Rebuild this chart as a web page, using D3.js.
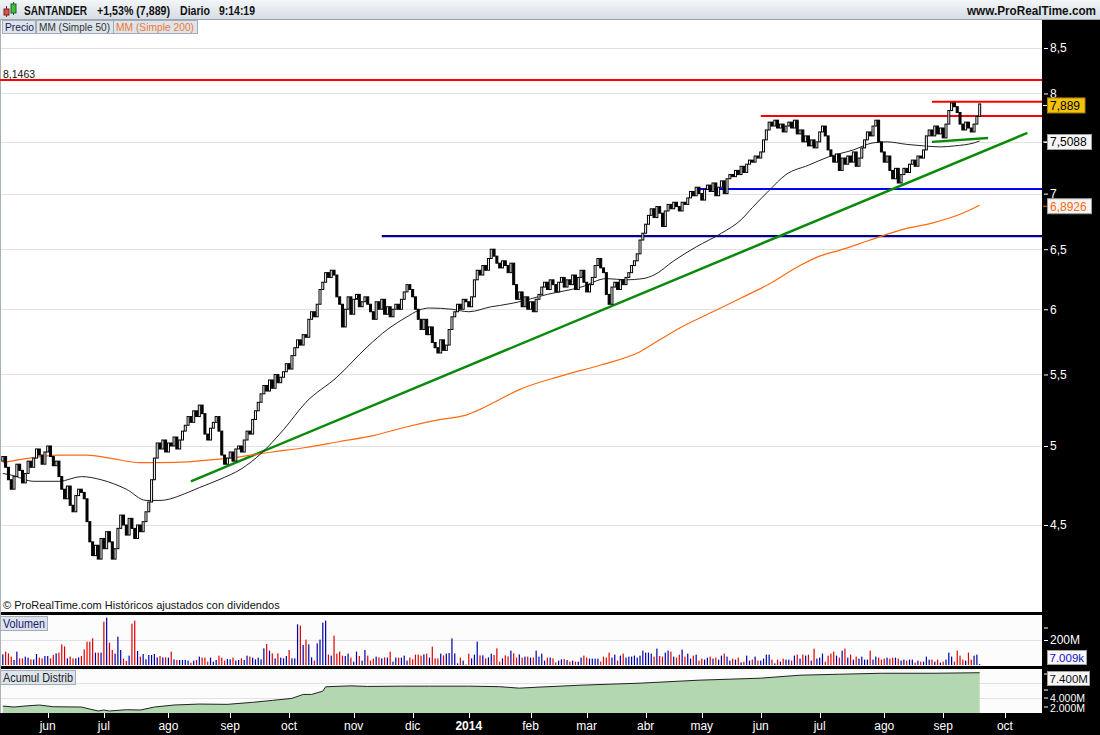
<!DOCTYPE html>
<html>
<head>
<meta charset="utf-8">
<script src="https://cdn.jsdelivr.net/npm/d3@7"></script>
<style>
body { margin: 0; background: #000; overflow: hidden; }
svg { display: block; font-family: "Liberation Sans", Arial, sans-serif; }
</style>
</head>
<body>
<svg id="chart" width="1100" height="735"></svg>
<script>
// daily closes, one per trading day from 10 May 2013 to 19 Sep 2014
var closes = [
    4.93, 4.86, 4.78, 4.72, 4.80, 4.88, 4.84, 4.76, 4.82, 4.90,
    4.86, 4.92, 4.98, 4.94, 4.88, 4.96, 5.00, 4.93, 4.87, 4.90,
    4.80, 4.72, 4.66, 4.74, 4.62, 4.58, 4.68, 4.72, 4.70, 4.66,
    4.52, 4.40, 4.32, 4.38, 4.30, 4.42, 4.36, 4.46, 4.40, 4.30,
    4.36, 4.48, 4.56, 4.50, 4.44, 4.54, 4.48, 4.42, 4.50, 4.46,
    4.52, 4.58, 4.64, 4.78, 4.92, 5.02, 4.98, 5.04, 4.96, 5.02,
    5.00, 5.06, 4.98, 5.04, 5.10, 5.14, 5.20, 5.16, 5.24, 5.20,
    5.28, 5.22, 5.08, 5.04, 5.12, 5.16, 5.20, 5.10, 4.94, 4.88,
    4.92, 4.96, 4.90, 4.98, 5.00, 4.96, 5.04, 5.10, 5.08, 5.18,
    5.24, 5.30, 5.36, 5.42, 5.38, 5.46, 5.40, 5.50, 5.44, 5.48,
    5.52, 5.58, 5.54, 5.64, 5.70, 5.76, 5.72, 5.80, 5.78, 5.92,
    5.98, 5.94, 6.04, 6.16, 6.22, 6.30, 6.26, 6.32, 6.28, 6.10,
    6.04, 5.86, 6.00, 6.10, 5.96, 6.08, 6.12, 6.02, 6.06, 6.10,
    6.04, 5.98, 5.92, 6.06, 6.00, 6.08, 5.96, 6.02, 5.94, 6.00,
    6.04, 6.00, 6.08, 6.14, 6.20, 6.16, 6.10, 6.00, 5.92, 5.84,
    5.92, 5.80, 5.86, 5.74, 5.70, 5.66, 5.76, 5.68, 5.72, 5.84,
    5.94, 5.98, 6.04, 6.00, 6.08, 6.06, 6.02, 6.10, 6.24, 6.32,
    6.28, 6.36, 6.32, 6.42, 6.50, 6.44, 6.38, 6.34, 6.40, 6.36,
    6.30, 6.38, 6.20, 6.08, 6.14, 6.02, 6.10, 6.00, 6.06, 5.98,
    6.08, 6.12, 6.18, 6.22, 6.16, 6.24, 6.20, 6.14, 6.22, 6.26,
    6.18, 6.24, 6.20, 6.28, 6.16, 6.26, 6.32, 6.22, 6.14, 6.20,
    6.26, 6.36, 6.42, 6.34, 6.30, 6.12, 6.04, 6.18, 6.22, 6.16,
    6.24, 6.20, 6.26, 6.30, 6.36, 6.40, 6.46, 6.58, 6.64, 6.72,
    6.80, 6.86, 6.78, 6.88, 6.82, 6.70, 6.84, 6.90, 6.86, 6.92,
    6.88, 6.84, 6.92, 6.90, 6.96, 7.02, 6.98, 7.06, 7.00, 6.94,
    7.04, 7.08, 7.02, 7.10, 6.98, 7.06, 7.12, 7.00, 7.14, 7.18,
    7.16, 7.22, 7.18, 7.26, 7.20, 7.28, 7.32, 7.30, 7.36, 7.34,
    7.40, 7.52, 7.62, 7.70, 7.66, 7.72, 7.64, 7.68, 7.60, 7.66,
    7.70, 7.64, 7.72, 7.58, 7.62, 7.50, 7.56, 7.46, 7.52, 7.44,
    7.50, 7.60, 7.66, 7.56, 7.42, 7.36, 7.30, 7.38, 7.22, 7.34,
    7.28, 7.36, 7.30, 7.40, 7.26, 7.34, 7.44, 7.52, 7.60, 7.56,
    7.66, 7.72, 7.50, 7.40, 7.30, 7.36, 7.22, 7.14, 7.24, 7.10,
    7.18, 7.24, 7.20, 7.28, 7.32, 7.26, 7.36, 7.34, 7.42, 7.56,
    7.62, 7.56, 7.66, 7.58, 7.64, 7.54, 7.68, 7.82, 7.90, 7.86,
    7.80, 7.68, 7.62, 7.70, 7.64, 7.60, 7.68, 7.76, 7.889
]
var firstOpen = 4.90

// volume in millions of shares, same days
var volumes = [
    85, 107, 93, 67, 40, 107, 53, 53, 67, 59,
    45, 45, 88, 59, 53, 72, 72, 53, 80, 93,
    99, 165, 149, 53, 67, 53, 53, 61, 72, 125,
    187, 187, 213, 99, 99, 99, 347, 379, 179, 120,
    91, 227, 120, 51, 32, 75, 331, 355, 112, 67,
    88, 45, 80, 80, 88, 61, 72, 61, 61, 59,
    107, 45, 40, 40, 40, 40, 35, 19, 35, 40,
    67, 59, 59, 27, 59, 27, 40, 75, 59, 35,
    48, 45, 59, 35, 40, 53, 40, 75, 67, 59,
    45, 59, 45, 133, 168, 115, 93, 53, 93, 59,
    53, 72, 120, 53, 53, 325, 315, 160, 203, 165,
    61, 35, 173, 203, 339, 355, 83, 75, 235, 91,
    107, 75, 72, 91, 59, 27, 107, 72, 35, 120,
    75, 35, 51, 67, 61, 53, 61, 59, 107, 27,
    59, 59, 59, 75, 35, 59, 45, 83, 83, 75,
    85, 91, 59, 147, 53, 53, 91, 77, 91, 96,
    213, 93, 13, 59, 35, 5, 91, 53, 83, 187,
    77, 77, 53, 61,
    91, 80, 133, 27, 53, 77, 69, 115, 93,
    59, 85, 59, 67, 67, 59, 59, 115, 67, 91,
    35, 59, 59, 53, 21, 35, 45, 48, 40, 27,
    35, 27, 27, 59, 75, 59, 51, 51, 51, 51,
    27, 67, 59, 99, 59, 83, 35, 75, 91, 59,
    67, 67, 75, 59, 75, 115, 99, 99, 91, 67,
    131, 72, 67, 99, 115, 107, 67, 59, 83, 123,
    67, 91, 51, 75, 83, 35, 51, 43, 59, 67,
    51, 59, 43, 75, 91, 67, 35, 51, 43, 59,
    21, 27, 75, 35, 43, 67, 35, 35, 51, 83,
    83, 43, 13, 43, 27, 51, 43, 43, 35, 75,
    83, 51, 83, 75, 83, 35, 131, 51, 59, 91,
    27, 75, 91, 107, 75, 59, 115, 131, 59, 83,
    43, 67, 51, 67, 43, 43, 115, 43, 67, 59,
    43, 51, 59, 51, 59, 59, 51, 35, 43, 35,
    43, 43, 19, 35, 27, 27, 67, 43, 43, 27,
    43, 19, 27, 43, 99, 67, 27, 115, 75, 43,
    35, 99, 43, 75, 83, 7.009
]

// moving averages: [day index, value]
var ma50 = [
    [0, 4.82], [3, 4.81], [11, 4.77], [20, 4.77], [28, 4.80], [35, 4.78], [44, 4.72],
    [51, 4.65], [56, 4.65], [66, 4.70], [70, 4.73], [77, 4.78], [85, 4.85], [92, 4.95],
    [100, 5.11], [108, 5.30], [119, 5.48], [130, 5.71], [137, 5.84], [144, 5.94],
    [148, 5.99], [152, 6.01], [160, 6.00], [166, 5.98], [174, 6.02], [177, 6.03],
    [182, 6.05], [194, 6.12], [206, 6.18], [215, 6.25], [222, 6.24], [228, 6.25],
    [232, 6.28], [239, 6.40], [247, 6.52], [256, 6.64], [263, 6.76], [267, 6.87],
    [273, 7.03], [279, 7.18], [287, 7.27], [294, 7.35], [303, 7.42], [310, 7.49],
    [315, 7.50], [322, 7.475], [328, 7.46], [334, 7.45], [339, 7.46], [346, 7.49],
    [348, 7.5088]
]
var ma200 = [
    [0, 4.89], [6, 4.91], [20, 4.94], [30, 4.94], [38, 4.92], [49, 4.89], [56, 4.89],
    [66, 4.895], [75, 4.91], [85, 4.93], [96, 4.96], [108, 4.99], [120, 5.03],
    [132, 5.07], [144, 5.13], [156, 5.18], [165, 5.21], [170, 5.25], [177, 5.32],
    [184, 5.39], [199, 5.49], [213, 5.57], [227, 5.67], [234, 5.76], [241, 5.85],
    [252, 5.97], [263, 6.09], [273, 6.205], [284, 6.36], [291, 6.44], [298, 6.49],
    [309, 6.58], [320, 6.67], [331, 6.73], [341, 6.81], [348, 6.8926]
]

// accumulation / distribution in millions: [day index, value]
var acum = [
    [0, 2.93], [4, 2.80], [9, 2.97], [13, 3.07], [18, 2.84], [28, 2.80], [31, 2.53],
    [34, 2.27], [36, 2.40], [38, 2.27], [44, 2.44], [49, 2.40], [54, 2.80], [61, 3.07],
    [70, 3.20], [80, 3.16], [89, 3.43], [96, 3.69], [103, 3.96], [107, 4.49], [110, 4.49],
    [114, 4.93], [115, 5.51], [118, 5.56], [124, 5.64], [130, 5.56], [142, 5.60],
    [152, 5.60], [166, 5.60], [177, 5.53], [184, 5.33], [191, 5.47], [206, 5.73],
    [227, 6.00], [248, 6.40], [270, 6.67], [284, 7.07], [298, 7.20], [313, 7.33],
    [331, 7.33], [348, 7.40]
]

// drawn support / resistance: [price, first day index]
var redLevels = [[8.1463, -1], [7.763, 270], [7.913, 331]]
var blueLevel = [7.043, 247]
var navyLevel = [6.615, 135]
// trend lines: [[day, price], [day, price]]
var trendMain = [[67, 4.77], [365, 7.59]]
var trendShort = [[331, 7.50], [351, 7.54]]

var holidays = ["2013-12-25", "2013-12-26", "2014-01-01", "2014-04-18", "2014-04-21", "2014-05-01"]
var monthNames = ["ene", "feb", "mar", "abr", "may", "jun", "jul", "ago", "sep", "oct", "nov", "dic"]
var priceTicks = [4.5, 5, 5.5, 6, 6.5, 7, 7.5, 8, 8.5]

var W = 1100, H = 735, plotW = 1042
var svg = d3.select("#chart")
var fmtKey = d3.timeFormat("%Y-%m-%d")

// trading days (weekdays minus market holidays)
var dates = []
var d = new Date(2013, 4, 10)
while (dates.length < 371) {
    var dow = d.getDay()
    if (dow != 0 && dow != 6 && holidays.indexOf(fmtKey(d)) < 0) dates.push(new Date(d))
    d.setDate(d.getDate() + 1)
}

var x = d3.scaleLinear().domain([-1, 370.2]).range([0, plotW])
var y = d3.scaleLog().domain([4.5, 8.5]).range([525, 48])
var yVol = d3.scaleLinear().domain([0, 200]).range([665, 640])
var yAcum = d3.scaleLinear().domain([2, 7.9]).range([713, 669])

var comma = function (v) { return String(v).replace(".", ",") }
var lastClose = closes[closes.length - 1]

// backgrounds
svg.append("rect").attr("width", W).attr("height", H).attr("fill", "#000")
svg.append("rect").attr("x", 0).attr("y", 19).attr("width", plotW).attr("height", 593).attr("fill", "#fff")
svg.append("rect").attr("x", 0).attr("y", 615).attr("width", plotW).attr("height", 51).attr("fill", "#fcfcfc")
svg.append("rect").attr("x", 0).attr("y", 669).attr("width", plotW).attr("height", 44).attr("fill", "#fcfcfc")
svg.append("line").attr("x1", 0.5).attr("x2", 0.5).attr("y1", 19).attr("y2", 713)
    .attr("stroke", "#a8b0b8")

// header
var defs = svg.append("defs")
var grad = defs.append("linearGradient").attr("id", "hdr").attr("x1", 0).attr("x2", 0).attr("y1", 0).attr("y2", 1)
grad.append("stop").attr("offset", "0%").attr("stop-color", "#f3f6f8")
grad.append("stop").attr("offset", "100%").attr("stop-color", "#d6dde4")
svg.append("rect").attr("width", W).attr("height", 19).attr("fill", "url(#hdr)")
svg.append("line").attr("x1", 0).attr("x2", W).attr("y1", 19.5).attr("y2", 19.5).attr("stroke", "#9aa4ae")

// small candle icon
var icon = svg.append("g")
icon.append("line").attr("x1", 6.5).attr("x2", 6.5).attr("y1", 6).attr("y2", 17).attr("stroke", "#802020")
icon.append("rect").attr("x", 4).attr("y", 9).attr("width", 5).attr("height", 6).attr("fill", "#e05050").attr("stroke", "#802020")
icon.append("line").attr("x1", 13.5).attr("x2", 13.5).attr("y1", 2).attr("y2", 15).attr("stroke", "#206020")
icon.append("rect").attr("x", 11).attr("y", 4).attr("width", 5).attr("height", 9).attr("fill", "#40c040").attr("stroke", "#206020")

// header texts: [text, left, width]
var hdrText = [["SANTANDER", 24, 63], ["+1,53% (7,889)", 97, 73], ["Diario", 180, 30], ["9:14:19", 219, 36]]
svg.selectAll(".hdr").data(hdrText).enter().append("text")
    .attr("x", function (t) { return t[1] }).attr("y", 14.5)
    .attr("textLength", function (t) { return t[2] }).attr("lengthAdjust", "spacingAndGlyphs")
    .attr("font-size", 12).attr("font-weight", "bold").attr("fill", "#111")
    .text(function (t) { return t[0] })
svg.append("text").attr("x", 967).attr("y", 14.5).attr("textLength", 129).attr("lengthAdjust", "spacingAndGlyphs")
    .attr("font-size", 12).attr("font-weight", "bold").attr("fill", "#111")
    .text("www.ProRealTime.com")

// legend tabs: [text, left, box width, text width, colour]
var tabs = [["Precio", 2, 33, 29, "#1a1a50"], ["MM (Simple 50)", 36, 77, 71, "#333"], ["MM (Simple 200)", 113, 84, 78, "#f07830"]]
var tabG = svg.selectAll(".tab").data(tabs).enter().append("g")
tabG.append("rect").attr("x", function (t) { return t[1] + 0.5 }).attr("y", 20.5)
    .attr("width", function (t) { return t[2] }).attr("height", 13)
    .attr("fill", "#dde4ec").attr("stroke", "#a4acb8")
tabG.append("text").attr("x", function (t) { return t[1] + 3 }).attr("y", 31)
    .attr("textLength", function (t) { return t[3] }).attr("lengthAdjust", "spacingAndGlyphs")
    .attr("font-size", 11.5).attr("fill", function (t) { return t[4] })
    .text(function (t) { return t[0] })

// grid lines of the price panel
svg.append("g").selectAll("line").data(priceTicks).enter().append("line")
    .attr("x1", 1).attr("x2", plotW)
    .attr("y1", function (v) { return Math.round(y(v)) + 0.5 })
    .attr("y2", function (v) { return Math.round(y(v)) + 0.5 })
    .attr("stroke", "#e2e2e2")

// horizontal levels
svg.append("g").selectAll("line").data(redLevels).enter().append("line")
    .attr("x1", function (l) { return x(l[1]) }).attr("x2", plotW)
    .attr("y1", function (l) { return y(l[0]) }).attr("y2", function (l) { return y(l[0]) })
    .attr("stroke", "#ff0000").attr("stroke-width", 2)
svg.append("line").attr("x1", x(navyLevel[1])).attr("x2", plotW)
    .attr("y1", y(navyLevel[0])).attr("y2", y(navyLevel[0]))
    .attr("stroke", "#000090").attr("stroke-width", 2.2)
svg.append("line").attr("x1", x(blueLevel[1])).attr("x2", plotW)
    .attr("y1", y(blueLevel[0])).attr("y2", y(blueLevel[0]))
    .attr("stroke", "#0000ff").attr("stroke-width", 2)
svg.append("text").attr("x", 3).attr("y", 78).attr("font-size", 10.5).attr("fill", "#111").text(comma(redLevels[0][0]))

// trend lines
var seg = d3.line().x(function (p) { return x(p[0]) }).y(function (p) { return y(p[1]) })
svg.append("path").attr("d", seg(trendMain)).attr("fill", "none").attr("stroke", "#0a8a0a").attr("stroke-width", 2.5)
svg.append("path").attr("d", seg(trendShort)).attr("fill", "none").attr("stroke", "#0a8a0a").attr("stroke-width", 2.5)

// moving averages
var curve = d3.line().curve(d3.curveMonotoneX).x(function (p) { return x(p[0]) }).y(function (p) { return y(p[1]) })
svg.append("path").attr("d", curve(ma200)).attr("fill", "none").attr("stroke", "#ff6a10").attr("stroke-width", 1.2)
svg.append("path").attr("d", curve(ma50)).attr("fill", "none").attr("stroke", "#222").attr("stroke-width", 1)

// price bars: body from the previous close to the close
var bars = closes.map(function (c, i) {
    return { i: i, o: i == 0 ? firstOpen : closes[i - 1], c: c }
})
svg.append("g").selectAll("rect").data(bars).enter().append("rect")
    .attr("x", function (b) { return x(b.i) - 1 })
    .attr("width", 2)
    .attr("y", function (b) { return y(Math.max(b.o, b.c)) })
    .attr("height", function (b) { return Math.max(1, Math.abs(y(b.o) - y(b.c))) })
    .attr("fill", function (b) { return b.c >= b.o ? "#fff" : "#000" })
    .attr("stroke", "#000").attr("stroke-width", 1)

svg.append("text").attr("x", 3).attr("y", 609).attr("font-size", 11).attr("fill", "#111")
    .text("© ProRealTime.com  Históricos ajustados con dividendos")

// price axis (7,5 sits under the MM 50 tag)
var yAxis = d3.axisRight(y).tickValues(priceTicks).tickSize(4).tickPadding(2)
    .tickFormat(function (v) { return v == 7.5 ? "" : comma(v) })
var ax = svg.append("g").attr("transform", "translate(1044,0)").call(yAxis)
ax.select(".domain").remove()
ax.selectAll("line").attr("stroke", "#fff")
ax.selectAll("text").attr("fill", "#fff").attr("font-size", 12).attr("font-family", "Liberation Sans, Arial, sans-serif")

function tag(yy, txt, fill, stroke, color, tick) {
    var w = txt.length * 6.5 + 5
    svg.append("line").attr("x1", 1043).attr("x2", 1048).attr("y1", yy).attr("y2", yy).attr("stroke", tick)
    svg.append("rect").attr("x", 1047.5).attr("y", yy - 7.5).attr("width", w).attr("height", 15)
        .attr("fill", fill).attr("stroke", stroke)
    svg.append("text").attr("x", 1050).attr("y", yy + 4.3).attr("font-size", 12).attr("fill", color).text(txt)
}
tag(y(lastClose) + 1.5, comma(lastClose), "#f4c20d", "#a88400", "#000", "#fff")
tag(y(ma50[ma50.length - 1][1]) + 1, comma(ma50[ma50.length - 1][1]), "#f6f6f6", "#a0a0a0", "#000", "#fff")
tag(y(ma200[ma200.length - 1][1]) + 1, comma(ma200[ma200.length - 1][1]), "#f6f6f6", "#a0a0a0", "#ff6a10", "#ff6a10")

// volume panel
svg.append("line").attr("x1", 1).attr("x2", plotW).attr("y1", yVol(200) + 0.5).attr("y2", yVol(200) + 0.5).attr("stroke", "#e2e2e2")
svg.append("g").selectAll("rect").data(volumes).enter().append("rect")
    .attr("x", function (v, i) { return x(i) - 0.6 })
    .attr("width", 1.2)
    .attr("y", function (v) { return yVol(v) })
    .attr("height", function (v) { return yVol(0) - yVol(v) })
    .attr("fill", function (v, i) { return closes[i] >= bars[i].o ? "#0000a8" : "#e00000" })
var vAxis = d3.axisRight(yVol).tickValues([200, 300]).tickSize(4).tickPadding(2)
    .tickFormat(function (v) { return v == 200 ? "200M" : "" })
var vax = svg.append("g").attr("transform", "translate(1044,0)").call(vAxis)
vax.select(".domain").remove()
vax.selectAll("line").attr("stroke", "#fff")
vax.selectAll("text").attr("fill", "#fff").attr("font-size", 12).attr("font-family", "Liberation Sans, Arial, sans-serif")
svg.append("rect").attr("x", 1047.5).attr("y", 650.5).attr("width", 39).attr("height", 14).attr("fill", "#f8f8f8").attr("stroke", "#a0a0a0")
svg.append("text").attr("x", 1049.5).attr("y", 662).attr("font-size", 11.5).attr("fill", "#1010c0")
    .text(d3.format(".3f")(volumes[volumes.length - 1]) + "k")

// accumulation / distribution panel
svg.append("g").selectAll("line").data([4, 6]).enter().append("line")
    .attr("x1", 1).attr("x2", plotW)
    .attr("y1", function (v) { return Math.round(yAcum(v)) + 0.5 })
    .attr("y2", function (v) { return Math.round(yAcum(v)) + 0.5 })
    .attr("stroke", "#e2e2e2")
var area = d3.area().x(function (p) { return x(p[0]) }).y0(713).y1(function (p) { return yAcum(p[1]) })
svg.append("path").attr("d", area(acum)).attr("fill", "#b3d7b1")
svg.append("path").attr("d", d3.line().x(function (p) { return x(p[0]) }).y(function (p) { return yAcum(p[1]) })(acum))
    .attr("fill", "none").attr("stroke", "#222").attr("stroke-width", 1)
// [value, label baseline]
var acumLabels = [[4, 701.5], [2, 711.5]]
svg.selectAll(".al").data(acumLabels).enter().append("text")
    .attr("x", 1050).attr("y", function (a) { return a[1] })
    .attr("font-size", 10.5).attr("fill", "#fff")
    .text(function (a) { return d3.format(".3f")(a[0]) + "M" })
svg.selectAll(".alt").data([674, 690, 698, 707]).enter().append("line")
    .attr("x1", 1044).attr("x2", 1048)
    .attr("y1", function (v) { return v }).attr("y2", function (v) { return v })
    .attr("stroke", "#fff")
svg.append("rect").attr("x", 1047.5).attr("y", 671.5).attr("width", 42).attr("height", 14).attr("fill", "#f8f8f8").attr("stroke", "#a0a0a0")
svg.append("text").attr("x", 1049.5).attr("y", 683).attr("font-size", 11.5).attr("fill", "#111")
    .text(d3.format(".3f")(acum[acum.length - 1][1]) + "M")

// panel labels
function panelLabel(txt, yy, w, tw, color) {
    svg.append("rect").attr("x", 0.5).attr("y", yy + 0.5).attr("width", w).attr("height", 14)
        .attr("fill", "#dde4ec").attr("stroke", "#a4acb8")
    svg.append("text").attr("x", 3).attr("y", yy + 11.5).attr("textLength", tw).attr("lengthAdjust", "spacingAndGlyphs")
        .attr("font-size", 12).attr("fill", color).text(txt)
}
panelLabel("Volumen", 616, 47, 42, "#1a1a70")
panelLabel("Acumul Distrib", 670, 75, 70, "#222")

// month axis
var months = []
for (var i = 1; i < dates.length; i++) {
    if (dates[i].getMonth() != dates[i - 1].getMonth()) months.push(i)
}
var xAxisG = svg.append("g")
xAxisG.selectAll("line").data(months).enter().append("line")
    .attr("x1", function (i) { return Math.round(x(i)) + 0.5 })
    .attr("x2", function (i) { return Math.round(x(i)) + 0.5 })
    .attr("y1", 713).attr("y2", 718).attr("stroke", "#fff")
xAxisG.selectAll("text").data(months).enter().append("text")
    .attr("x", function (i) { return x(i) }).attr("y", 730)
    .attr("text-anchor", "middle").attr("font-size", 12).attr("fill", "#fff")
    .attr("font-weight", function (i) { return dates[i].getMonth() == 0 ? "bold" : "normal" })
    .text(function (i) { return dates[i].getMonth() == 0 ? dates[i].getFullYear() : monthNames[dates[i].getMonth()] })
</script>
</body>
</html>
